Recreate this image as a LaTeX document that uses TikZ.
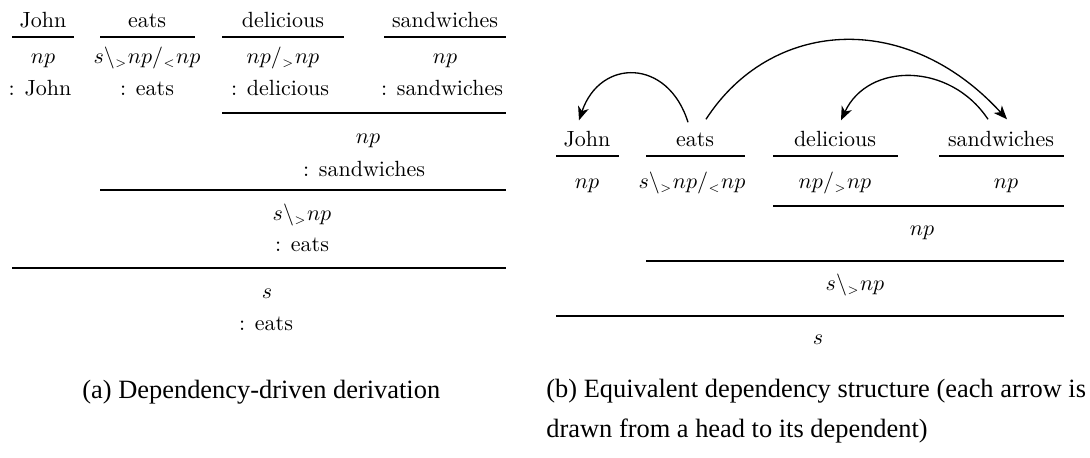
\documentclass[tikz,border=0pt]{standalone}
\usepackage{fontspec}
\newfontfamily\capfont{Liberation Serif}
\usetikzlibrary{arrows.meta}
\newcommand{\sgt}{_{\scriptscriptstyle >}}
\newcommand{\slt}{_{\scriptscriptstyle <}}
\tikzset{
  lbl/.style={anchor=base, inner sep=0pt, text height=6.94pt, text depth=1.94pt},
  rulel/.style={line width=0.55pt},
  dep/.style={line width=0.6pt, -{Stealth[length=6.2pt,width=5pt,inset=1.8pt]}},
  captext/.style={anchor=base west, inner sep=0pt, font=\capfont\fontsize{12}{14}\selectfont}
}
\begin{document}
\begin{tikzpicture}[x=0.4545pt,y=-0.4545pt]
\useasboundingbox (0,0) rectangle (1090,457);

% ---------------- (a) derivation ----------------
\node[lbl] (aw1) at (43,27) {John};
\node[lbl] (aw2) at (147,27) {eats};
\node[lbl] (aw3) at (283,27) {delicious};
\node[lbl] (aw4) at (445,27) {sandwiches};
\draw[rulel] (12,37) -- (74,37);
\draw[rulel] (100,37) -- (195,37);
\draw[rulel] (222,37) -- (344,37);
\draw[rulel] (384,37) -- (506,37);
\node[lbl] (ac1) at (43,63) {$np$};
\node[lbl] (ac2) at (147,63) {$s\backslash\sgt np/\slt np$};
\node[lbl] (ac3) at (283,63) {$np/\sgt np$};
\node[lbl] (ac4) at (445,63) {$np$};
\node[lbl] (as1) at (40,95) {: John};
\node[lbl] (as2) at (147,95) {: eats};
\node[lbl] (as3) at (280,95) {: delicious};
\node[lbl] (as4) at (442,95) {: sandwiches};
\draw[rulel] (222,113) -- (506,113);
\node[lbl] (ac5) at (368,143) {$np$};
\node[lbl] (as5) at (364,176) {: sandwiches};
\draw[rulel] (100,190) -- (506,190);
\node[lbl] (ac6) at (302,220) {$s\backslash\sgt np$};
\node[lbl] (as6) at (302,251) {: eats};
\draw[rulel] (12,268) -- (506,268);
\node[lbl] (ac7) at (267,298) {$s$};
\node[lbl] (as7) at (266,330) {: eats};

% ---------------- (b) dependency structure ----------------
\node[lbl] (bw1) at (587,146) {John};
\node[lbl] (bw2) at (695,146) {eats};
\node[lbl] (bw3) at (835,146) {delicious};
\node[lbl] (bw4) at (1001,146) {sandwiches};
\draw[rulel] (556,156) -- (619,156);
\draw[rulel] (646,156) -- (745,156);
\draw[rulel] (773,156) -- (898,156);
\draw[rulel] (939,156) -- (1064,156);
\node[lbl] (bc1) at (587,188) {$np$};
\node[lbl] (bc2) at (692,188) {$s\backslash\sgt np/\slt np$};
\node[lbl] (bc3) at (835,188) {$np/\sgt np$};
\node[lbl] (bc4) at (1006,188) {$np$};
\draw[rulel] (773,206) -- (1064,206);
\node[lbl] (bc5) at (922,235) {$np$};
\draw[rulel] (646,261) -- (1064,261);
\node[lbl] (bc6) at (855,290) {$s\backslash\sgt np$};
\draw[rulel] (556,316) -- (1064,316);
\node[lbl] (bc7) at (818,344) {$s$};

% arrows head -> dependent
\coordinate (e1s) at ([shift={(-7,-8)}]bw2.north);
\coordinate (e1t) at ([shift={(-8,-10)}]bw1.north);
\coordinate (e2s) at ([shift={(11,-11)}]bw2.north);
\coordinate (e2t) at ([shift={(6,-11)}]bw4.north);
\coordinate (e3s) at ([shift={(-13,-11)}]bw4.north);
\coordinate (e3t) at ([shift={(6,-10)}]bw3.north);
\draw[dep] (e1s) .. controls (668,58) and (600,58) .. (e1t);
\draw[dep] (e2s) .. controls (770,20) and (905,8) .. (e2t);
\draw[dep] (e3s) .. controls (950,62) and (868,62) .. (e3t);

% captions
\node[captext] (capa) at (82,398) {(a) Dependency-driven derivation};
\node[captext] (capb1) at (546,397) {(b) Equivalent dependency structure (each arrow is};
\node[captext] (capb2) at (546,437) {drawn from a head to its dependent)};
\end{tikzpicture}
\end{document}
